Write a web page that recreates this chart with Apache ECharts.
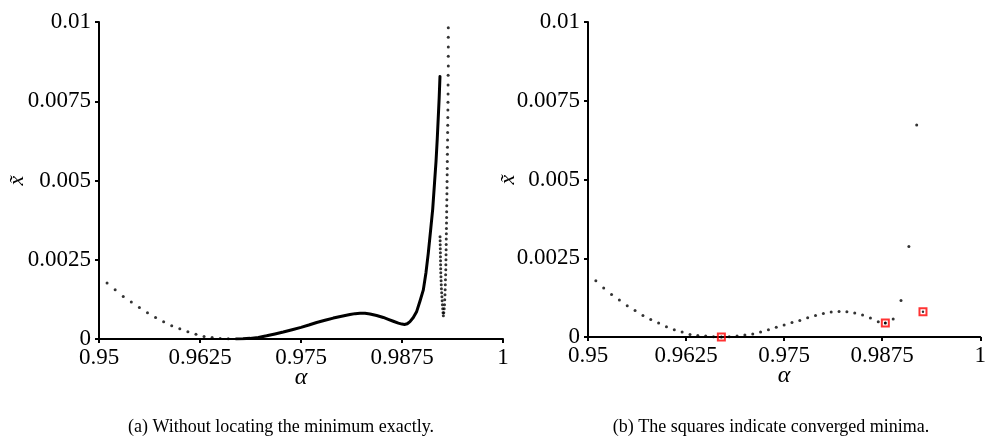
<!DOCTYPE html>
<html>
<head>
<meta charset="utf-8">
<script src="https://cdn.jsdelivr.net/npm/echarts@6/dist/echarts.min.js"></script>
<style>
  html, body { margin: 0; padding: 0; background: #fff; }
  #chart { width: 989px; height: 448px; }
</style>
</head>
<body>
<div id="chart"></div>
<script>
// Tick labels shared by both panels
const xTickLabels = ['0.95', '0.9625', '0.975', '0.9875', '1'];
const yTickLabels = ['0', '0.0025', '0.005', '0.0075', '0.01'];
const captions = ['(a) Without locating the minimum exactly.', '(b) The squares indicate converged minima.'];

// Panel (a): coarse steps before the first minimum
const leftCoarseAlpha = [0.951, 0.952, 0.953, 0.954, 0.955, 0.956, 0.957, 0.958, 0.959, 0.960, 0.961, 0.962, 0.963, 0.964, 0.965, 0.966];
const leftCoarseX = [0.001765, 0.001554, 0.001343, 0.001166, 0.000996, 0.000829, 0.000681, 0.000545, 0.000419, 0.000320, 0.000230, 0.000150, 0.000082, 0.000045, 0.000015, 0.000005];

// Panel (a): densely stepped stretch (drawn as a solid band)
const leftCurveAlpha = [0.96696, 0.96782, 0.96869, 0.96972, 0.97075, 0.97178, 0.97281, 0.9739, 0.9750, 0.97597, 0.97694, 0.97797, 0.9790, 0.98003, 0.98106, 0.9817, 0.9823, 0.98292, 0.98354, 0.98436, 0.98519, 0.9858, 0.98642, 0.98705, 0.9875, 0.9878, 0.98815, 0.98849, 0.9889, 0.98932, 0.98973, 0.99014, 0.99047, 0.99075, 0.99103, 0.9913, 0.99152, 0.99171, 0.99186, 0.99199, 0.9921, 0.9922];
const leftCurveX = [0.0, 0.000005, 0.00002, 0.00005, 0.0001, 0.00016, 0.00022, 0.00029, 0.000366, 0.00044, 0.00052, 0.00059, 0.00066, 0.00072, 0.00077, 0.0008, 0.00081, 0.00081, 0.00079, 0.00074, 0.00068, 0.00062, 0.00056, 0.00050, 0.00047, 0.00046, 0.00048, 0.00055, 0.00068, 0.00087, 0.0012, 0.00155, 0.0021, 0.0027, 0.0034, 0.0041, 0.0049, 0.0056, 0.0063, 0.0070, 0.0076, 0.00828];

// Panel (a): descending branch of the narrow dip
const leftDownAlpha = [0.99323, 0.99323, 0.99323, 0.99323, 0.99323, 0.99321, 0.9932, 0.9932, 0.99319, 0.99318,
  0.99317, 0.99316, 0.99315, 0.99314, 0.99313, 0.99312, 0.99311, 0.9931,
  0.99309, 0.99308, 0.99307, 0.99306, 0.99305, 0.99304, 0.99303, 0.99302, 0.99301, 0.993, 0.99299,
  0.99298, 0.99297, 0.99296, 0.99295, 0.99294, 0.99293, 0.99292, 0.9929, 0.99288, 0.99286, 0.99284,
  0.99282, 0.99279, 0.99276, 0.99272, 0.99267, 0.99262];
const leftDownX = [0.00982, 0.009518, 0.009212, 0.008919, 0.008613, 0.00832, 0.008015, 0.007731, 0.007469, 0.007227,
  0.006984, 0.006744, 0.006511, 0.006281, 0.006051, 0.00583, 0.005597, 0.005377,
  0.005178, 0.004967, 0.004768, 0.004579, 0.00439, 0.004201, 0.004012, 0.003832, 0.003656, 0.003486, 0.003319,
  0.003152, 0.002981, 0.002814, 0.002657, 0.002499, 0.002342, 0.002184, 0.002026, 0.001869, 0.001711, 0.001554,
  0.001396, 0.001239, 0.001081, 0.000955, 0.000829, 0.00073];

// Panel (a): ascending branch of the narrow dip
const leftUpAlpha = [0.99258, 0.99254, 0.9925, 0.99247, 0.99244, 0.99241, 0.99238, 0.99236, 0.99234, 0.99232,
  0.9923, 0.99229, 0.99228, 0.99227, 0.99226, 0.99225, 0.99224, 0.99223, 0.99222, 0.99221];
const leftUpX = [0.000829, 0.000955, 0.001081, 0.001207, 0.001333, 0.001459, 0.001585, 0.001711, 0.001837, 0.001963,
  0.002089, 0.002215, 0.002342, 0.002468, 0.002594, 0.00272, 0.002846, 0.002972, 0.003098, 0.003224];

// Panel (b): evenly stepped points
const rightAlpha = [0.951, 0.952, 0.953, 0.954, 0.955, 0.956, 0.957, 0.958, 0.959, 0.960,
  0.961, 0.962, 0.963, 0.964, 0.965, 0.966, 0.967, 0.968, 0.969, 0.970,
  0.971, 0.972, 0.973, 0.974, 0.975, 0.976, 0.977, 0.978, 0.979, 0.980,
  0.981, 0.982, 0.983, 0.984, 0.985, 0.986, 0.987, 0.9879, 0.9889, 0.9899, 0.9909, 0.9919];
const rightX = [0.001786, 0.001554, 0.001351, 0.001173, 0.000993, 0.000844, 0.000685, 0.000558, 0.000444, 0.000327,
  0.000232, 0.000159, 0.000082, 0.00005, 0.00003, 0.00001, 0.0, 0.00001, 0.00003, 0.00006,
  0.000095, 0.000159, 0.000232, 0.000306, 0.00038, 0.000463, 0.000527, 0.000612, 0.000685, 0.000749,
  0.000793, 0.000812, 0.0008, 0.000761, 0.000698, 0.000603, 0.000485, 0.000444, 0.000571, 0.00116, 0.00287, 0.00673];

// Panel (b): converged minima
const minimaAlpha = [0.967, 0.9879, 0.9927];
const minimaX = [0.0, 0.000444, 0.0008];

const FONT = 'Liberation Serif';
const zip = (a, b) => a.map((v, i) => [v, b[i]]);

function xAxisFor(gridIndex) {
  return {
    gridIndex: gridIndex,
    type: 'value',
    min: 0.95, max: 1, interval: 0.0125,
    name: 'α',
    nameLocation: 'middle',
    nameGap: 27,
    nameMoveOverlap: false,
    nameTextStyle: { fontFamily: FONT, fontStyle: 'italic', fontSize: 24, color: '#000' },
    axisLine: { show: true, onZero: false, lineStyle: { color: '#000', width: 2 } },
    axisTick: { show: true, length: 4, lineStyle: { color: '#000', width: 2 } },
    splitLine: { show: false },
    axisLabel: {
      margin: 7,
      fontFamily: FONT, fontSize: 23, color: '#000',
      formatter: v => xTickLabels[Math.round((v - 0.95) / 0.0125)]
    }
  };
}

function yAxisFor(gridIndex, gap) {
  return {
    gridIndex: gridIndex,
    type: 'value',
    min: 0, max: 0.01, interval: 0.0025,
    name: 'x̃',
    nameLocation: 'middle',
    nameRotate: 90,
    nameGap: gap,
    nameMoveOverlap: false,
    nameTextStyle: { fontFamily: FONT, fontStyle: 'italic', fontSize: 22, color: '#000' },
    axisLine: { show: true, lineStyle: { color: '#000', width: 2 } },
    axisTick: { show: true, length: 4, lineStyle: { color: '#000', width: 2 } },
    splitLine: { show: false },
    axisLabel: {
      margin: 8,
      fontFamily: FONT, fontSize: 23, color: '#000',
      formatter: v => yTickLabels[Math.round(v / 0.0025)]
    }
  };
}

const dotStyle = { color: '#000' };

const chart = echarts.init(document.getElementById('chart'), null, { renderer: 'canvas' });
chart.setOption({
  animation: false,
  backgroundColor: '#fff',
  grid: [
    { left: 99, top: 22, width: 404, height: 317, containLabel: false },
    { left: 588, top: 22, width: 400, height: 315, containLabel: false }
  ],
  xAxis: [xAxisFor(0), xAxisFor(1)],
  yAxis: [yAxisFor(0, 71), yAxisFor(1, 69)],
  graphic: [
    { type: 'text', x: 281, y: 427, style: { text: captions[0], font: '18px "Liberation Serif"', fill: '#000', textAlign: 'center', textVerticalAlign: 'middle' } },
    { type: 'text', x: 771, y: 427, style: { text: captions[1], font: '18px "Liberation Serif"', fill: '#000', textAlign: 'center', textVerticalAlign: 'middle' } }
  ],
  series: [
    { type: 'scatter', xAxisIndex: 0, yAxisIndex: 0, symbolSize: 3, itemStyle: dotStyle, data: zip(leftCoarseAlpha, leftCoarseX) },
    { type: 'line', xAxisIndex: 0, yAxisIndex: 0, showSymbol: false, lineStyle: { color: '#000', width: 3, join: 'round', cap: 'round' }, data: zip(leftCurveAlpha, leftCurveX) },
    { type: 'scatter', xAxisIndex: 0, yAxisIndex: 0, symbolSize: 3, itemStyle: dotStyle, data: zip(leftDownAlpha, leftDownX) },
    { type: 'scatter', xAxisIndex: 0, yAxisIndex: 0, symbolSize: 3, itemStyle: dotStyle, data: zip(leftUpAlpha, leftUpX) },
    { type: 'scatter', xAxisIndex: 1, yAxisIndex: 1, symbolSize: 3, itemStyle: dotStyle, data: zip(rightAlpha, rightX) },
    { type: 'scatter', xAxisIndex: 1, yAxisIndex: 1, symbol: 'rect', symbolSize: 7, z: 3,
      itemStyle: { color: 'rgba(0,0,0,0)', borderColor: '#ff0000', borderWidth: 2 }, data: zip(minimaAlpha, minimaX) },
    { type: 'scatter', xAxisIndex: 1, yAxisIndex: 1, symbolSize: 2.4, z: 4, itemStyle: dotStyle, data: zip(minimaAlpha, minimaX) }
  ]
});
</script>
</body>
</html>
